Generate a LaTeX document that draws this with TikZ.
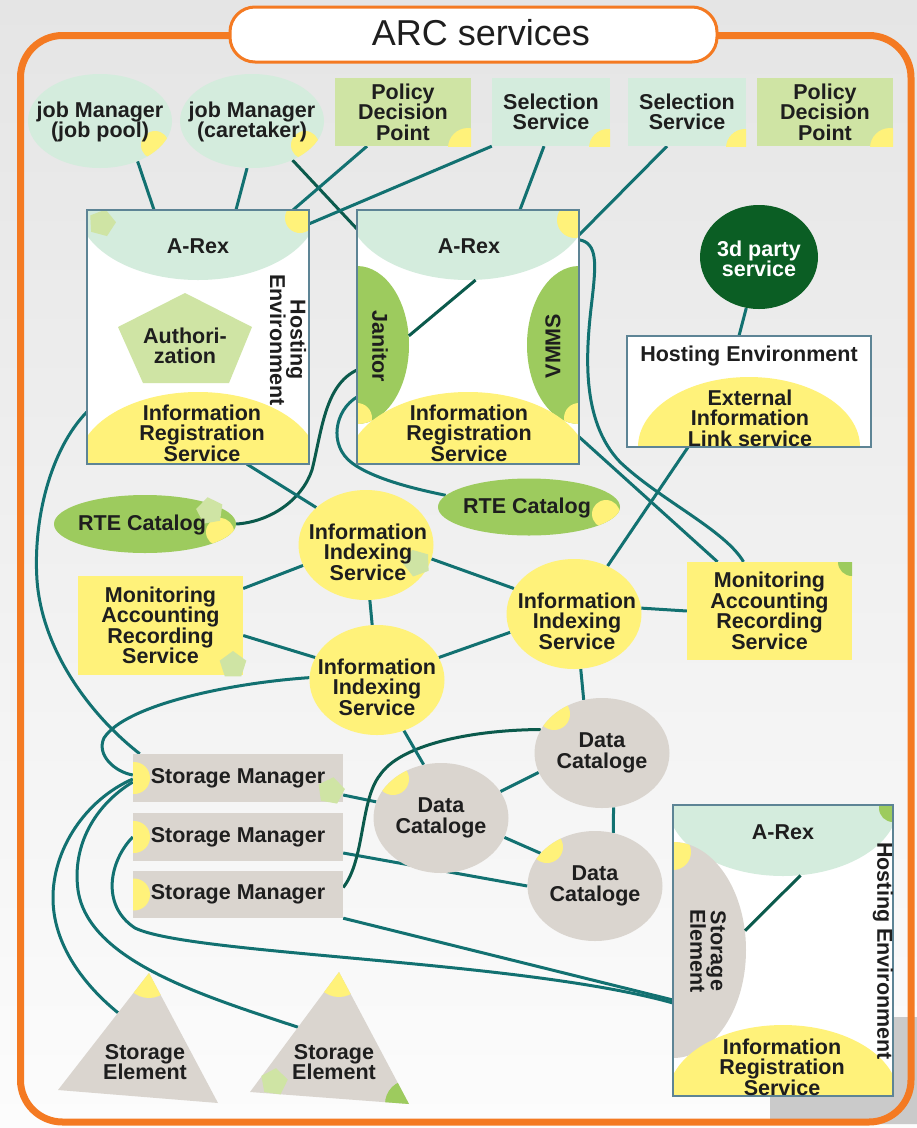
\documentclass[tikz,border=0pt]{standalone}
\usepackage{fontspec}
\setmainfont{Liberation Sans}
\usetikzlibrary{shapes.geometric,calc}
\definecolor{ink}{HTML}{1E1E1E}
\definecolor{mint}{HTML}{D4ECDD}
\definecolor{lgreen}{HTML}{CFE4A4}
\definecolor{leafc}{HTML}{9DCB5E}
\definecolor{yel}{HTML}{FFF27A}
\definecolor{sgray}{HTML}{DAD5CF}
\definecolor{dgreen}{HTML}{0B5E24}
\definecolor{orng}{HTML}{F47A22}
\definecolor{heline}{HTML}{5D8495}
\definecolor{linkc}{HTML}{127171}
\definecolor{dlinkc}{HTML}{0B5A4C}
\definecolor{bgtop}{HTML}{E5E5E5}
\definecolor{bgbot}{HTML}{FCFCFC}
\definecolor{bggray}{HTML}{CACACA}
\pgfdeclarelayer{bg}
\pgfdeclarelayer{edges}
\pgfsetlayers{bg,edges,main}
\begin{document}
\begin{tikzpicture}[x=1pt,y=-1pt,
    lbl/.style={font=\bfseries\fontsize{21.5}{20.5}\selectfont, text=ink, align=center, inner sep=0},
    oval/.style={ellipse, inner sep=0},
    card/.style={rectangle, lbl},
    hebox/.style={rectangle, inner sep=0, fill=white},
    hefrm/.style={draw=heline, line width=1.5pt},
    pent/.style={regular polygon, regular polygon sides=5, minimum size=28, inner sep=0, fill=lgreen},
    port/.style n args={4}{path picture={\fill[#1] ($(path picture bounding box.center)+(#2,#3)$) circle (#4);}},
    link/.style={draw=linkc, line width=3pt},
    dlink/.style={draw=dlinkc, line width=3pt}]
\useasboundingbox (0,0) rectangle (917,1128);
\begin{pgfonlayer}{bg}
  \shade[top color=bgtop, bottom color=bgbot] (0,0) rectangle (917,1128);
  \fill[bggray] (770,1124) -- (770,1090) .. controls (770,1040) and (790,1017) .. (840,1017) -- (917,1017) -- (917,1124) -- cycle;
  \draw[orng, line width=7pt, rounded corners=42] (20.5,35.5) rectangle (911,1122);
  \node[rectangle, rounded corners=25, minimum width=487, minimum height=55, fill=white, draw=orng, line width=3pt] (title) at (473.5,34.5) {};
  \node[font=\fontsize{36}{40}\selectfont, text=ink, inner sep=0] (titlet) at (481,33) {ARC services};
\end{pgfonlayer}

\node[oval, fill=mint, minimum width=144, minimum height=94, port={yel}{55}{24}{14}] (jmpool) at (100,121) {};
\node[lbl] (jmpoolt) at (100,122) {job Manager\\(job pool)};
\node[oval, fill=mint, minimum width=144, minimum height=94, port={yel}{53}{24}{14}] (jmcare) at (252,121) {};
\node[lbl] (jmcaret) at (252,122) {job Manager\\(caretaker)};
\node[card, fill=lgreen, minimum width=136, minimum height=68, port={yel}{65}{36}{20}] (pdpA) at (403,112) {Policy\\Decision\\Point};
\node[card, fill=mint, minimum width=118, minimum height=68, port={yel}{57}{36}{19}] (selA) at (551,112) {Selection\\Service};
\node[card, fill=mint, minimum width=118, minimum height=68, port={yel}{58}{36}{19}] (selB) at (687,112) {Selection\\Service};
\node[card, fill=lgreen, minimum width=136, minimum height=68, port={yel}{65}{36}{20}] (pdpB) at (825,112) {Policy\\Decision\\Point};

\node[hebox, minimum width=222, minimum height=254] (heA) at (198,337) {};
\begin{scope}
  \clip (heA.north west) rectangle (heA.south east);
  \node[oval, fill=mint, minimum width=240, minimum height=144, port={yel}{102}{10}{15}] (arexA) at (198,208) {};
  \node[oval, fill=yel, minimum width=240, minimum height=144] (irsA) at (198,464) {};
  \node[pent, rotate=-15] (pgA) at (102,223) {};
\end{scope}
\draw[hefrm] (heA.north west) rectangle (heA.south east);
\fill[lgreen] (185,293) -- (252,327) -- (229,383) -- (143,383) -- (118,327) -- cycle;
\node[lbl] (arexAt) at (198,246) {A-Rex};
\node[lbl] (authz) at (185,346) {Authori-\\zation};
\node[lbl] (irsAt) at (202,433) {Information\\Registration\\Service};
\node[lbl, rotate=-90] (heAt) at (288,340) {Hosting\\Environment};

\node[hebox, minimum width=222, minimum height=254] (heB) at (468,337) {};
\begin{scope}
  \clip (heB.north west) rectangle (heB.south east);
  \node[oval, fill=mint, minimum width=240, minimum height=144, port={yel}{107}{12}{18}] (arexB) at (468,208) {};
  \node[oval, fill=leafc, minimum width=104, minimum height=158, port={yel}{0}{73}{15}] (jan) at (357,345) {};
  \node[oval, fill=leafc, minimum width=104, minimum height=158, port={yel}{0}{73}{15}] (vmms) at (579,345) {};
  \node[oval, fill=yel, minimum width=240, minimum height=144] (irsB) at (468,464) {};
\end{scope}
\draw[hefrm] (heB.north west) rectangle (heB.south east);
\node[lbl] (arexBt) at (469,246) {A-Rex};
\node[lbl, rotate=-90] (jant) at (380,346) {Janitor};
\node[lbl, rotate=90] (vmmst) at (553,346) {VMMS};
\node[lbl] (irsBt) at (469,433) {Information\\Registration\\Service};
\draw[dlink] (arexB.-84) -- (jan.10);

\node[oval, fill=dgreen, minimum width=118, minimum height=104] (party) at (759,257) {};
\node[lbl, text=white] (partyt) at (759,259) {3d party\\service};

\node[hebox, minimum width=244, minimum height=111] (heC) at (749,391.5) {};
\begin{scope}
  \clip (heC.north west) rectangle (heC.south east);
  \node[oval, fill=yel, minimum width=222, minimum height=140] (extC) at (749,447) {};
\end{scope}
\draw[hefrm] (heC.north west) rectangle (heC.south east);
\node[lbl] (heCt) at (749,356) {Hosting Environment};
\node[lbl] (extCt) at (750,418) {External\\Information\\Link service};

\node[oval, fill=leafc, minimum width=182, minimum height=58, port={yel}{75}{8}{14}] (rteA) at (145,524) {};
\node[pent, rotate=10] (pgB) at (210,511) {};
\node[lbl] (rteAt) at (142,525) {RTE Catalog};
\node[oval, fill=leafc, minimum width=182, minimum height=57, port={yel}{77}{7}{14}] (rteB) at (529,507) {};
\node[lbl] (rteBt) at (527,508) {RTE Catalog};

\node[oval, fill=yel, minimum width=135, minimum height=110] (iisA) at (366,545) {};
\node[pent, rotate=20] (pgC) at (417,563) {};
\node[lbl] (iisAt) at (368,552) {Information\\Indexing\\Service};
\node[oval, fill=yel, minimum width=135, minimum height=110] (iisB) at (574,614) {};
\node[lbl] (iisBt) at (577,621) {Information\\Indexing\\Service};
\node[oval, fill=yel, minimum width=135, minimum height=110] (iisC) at (377,680) {};
\node[lbl] (iisCt) at (377,687) {Information\\Indexing\\Service};

\node[card, fill=yel, minimum width=165, minimum height=99] (maA) at (160.5,625.5) {};
\node[pent] (pgD) at (233,665) {};
\node[lbl] (maAt) at (maA) {Monitoring\\Accounting\\Recording\\Service};
\node[card, fill=yel, minimum width=165, minimum height=98, port={leafc}{82.5}{-49}{14}] (maB) at (769.5,611) {Monitoring\\Accounting\\Recording\\Service};

\node[card, fill=sgray, minimum width=210, minimum height=48, port={yel}{-104}{0}{16}] (smA) at (238,778) {Storage Manager};
\node[pent, rotate=-10] (pgE) at (331,791) {};
\node[card, fill=sgray, minimum width=210, minimum height=48, port={yel}{-104}{0}{16}] (smB) at (238,837) {Storage Manager};
\node[card, fill=sgray, minimum width=210, minimum height=47, port={yel}{-104}{0}{16}] (smC) at (238,894.5) {Storage Manager};

\node[oval, fill=sgray, minimum width=135, minimum height=110, port={yel}{-48}{-39}{16}] (dcA) at (602,753) {};
\node[lbl] (dcAt) at (dcA) {Data\\Cataloge};
\node[oval, fill=sgray, minimum width=135, minimum height=110, port={yel}{-48}{-39}{16}] (dcB) at (441,818) {};
\node[lbl] (dcBt) at (dcB) {Data\\Cataloge};
\node[oval, fill=sgray, minimum width=135, minimum height=110, port={yel}{-48}{-39}{16}] (dcC) at (595,886) {};
\node[lbl] (dcCt) at (dcC) {Data\\Cataloge};

\coordinate (seAtop) at (149,973);
\coordinate (seAleft) at (58,1090);
\coordinate (seAright) at (218,1103);
\fill[sgray] (seAtop) -- (seAleft) -- (seAright) -- cycle;
\begin{scope}
  \clip (seAtop) -- (seAleft) -- (seAright) -- cycle;
  \fill[yel] (seAtop) circle (25);
\end{scope}
\node[lbl] (seAt) at (145,1062) {Storage\\Element};
\coordinate (seBtop) at (339,972);
\coordinate (seBleft) at (250,1092);
\coordinate (seBright) at (409,1104);
\fill[sgray] (seBtop) -- (seBleft) -- (seBright) -- cycle;
\begin{scope}
  \clip (seBtop) -- (seBleft) -- (seBright) -- cycle;
  \fill[yel] (seBtop) circle (25);
  \fill[leafc] (seBright) circle (24);
\end{scope}
\node[pent, rotate=-8] (pgF) at (274,1082) {};
\node[lbl] (seBt) at (334,1062) {Storage\\Element};

\node[hebox, minimum width=220, minimum height=291] (heD) at (783,950.5) {};
\begin{scope}
  \clip (heD.north west) rectangle (heD.south east);
  \node[oval, fill=mint, minimum width=230, minimum height=142, port={leafc}{110}{3}{14}] (arexD) at (783,805) {};
  \node[oval, fill=sgray, minimum width=146, minimum height=216, port={yel}{0}{-98}{18}] (seD) at (673,950) {};
  \node[oval, fill=yel, minimum width=230, minimum height=142] (irsD) at (783,1096) {};
\end{scope}
\draw[hefrm] (heD.north west) rectangle (heD.south east);
\node[lbl] (arexDt) at (783,832) {A-Rex};
\node[lbl, rotate=-90] (seDt) at (708,951) {Storage\\Element};
\node[lbl] (irsDt) at (782,1067) {Information\\Registration\\Service};
\node[lbl, rotate=-90] (heDt) at (883,951) {Hosting Environment};
\draw[dlink] (arexD.-76) -- (seD.15);

\begin{pgfonlayer}{edges}
  \draw[link] (jmpool.-47) -- ([xshift=-44]heA.north);
  \draw[link] (jmcare.264) -- ([xshift=38]heA.north);
  \draw[dlink] (jmcare.-44) -- ([yshift=-19]heB.north west);
  \draw[link] ([xshift=-36]pdpA.south) -- ([xshift=-16]heA.north east);
  \draw[link] (selA.south west) -- ([yshift=-14]heA.north east);
  \draw[link] ([xshift=-7]selA.south) -- ([xshift=52]heB.north);
  \draw[link] ([xshift=-20]selB.south) -- ([yshift=-25]heB.north east);
  \draw[link] (party.-104) -- ([xshift=-10]heC.north);
  \draw[link] ([xshift=-61]heC.south) -- (iisB.55);
  \draw[dlink] ([yshift=-25]jan.center) .. controls (325,385) and (322,430) .. (312,470) .. controls (302,500) and (270,522) .. (rteA.east);
  \draw[link] ([yshift=-52]jan.center) .. controls (335,410) and (328,445) .. (352,463) .. controls (375,480) and (420,490) .. (rteB.172);
  \draw[link] ([xshift=49]heA.south) -- (iisA.143);
  \draw[link] ([yshift=-75]heA.west) .. controls (50,450) and (33,520) .. (37,580) .. controls (42,650) and (90,715) .. ([xshift=7]smA.north west);
  \draw[link] (iisC.178) .. controls (230,683) and (125,705) .. (104,738) .. controls (96,755) and (115,772) .. ([yshift=3]smA.west);
  \draw[link] ([yshift=-1]smA.west) .. controls (85,800) and (52,850) .. (53,900) .. controls (54,950) and (90,990) .. ($(seAtop)!0.34!(seAleft)$);
  \draw[link] ([yshift=-4]smA.west) .. controls (95,805) and (72,845) .. (78,890) .. controls (88,960) and (200,995) .. ($(seBtop)!0.46!(seBleft)$);
  \draw[link] (smB.west) .. controls (110,860) and (100,905) .. (135,928) .. controls (190,955) and (520,960) .. ([yshift=-53]seD.center);
  \draw[link] (smC.south east) -- ([yshift=-50]seD.center);
  \draw[link] ([yshift=-17]smA.east) -- (dcB.166);
  \draw[link] ([yshift=-16]smB.east) -- (dcC.west);
  \draw[dlink] ([yshift=7]smC.east) .. controls (365,860) and (360,800) .. (380,775) .. controls (400,745) and (470,730) .. (dcA.159);
  \draw[link] (iisC.-62) -- (dcB.108);
  \draw[link] (dcB.24) -- (dcA.-163);
  \draw[link] (dcA.-78) -- (dcC.71);
  \draw[link] (dcB.-17) -- (dcC.149);
  \draw[link] (iisB.-83) -- (dcA.109);
  \draw[link] (iisA.-86) -- (iisC.95);
  \draw[link] (iisA.-12) -- (iisB.157);
  \draw[link] (iisC.20) -- (iisB.-164);
  \draw[link] ([yshift=37]maA.east) -- (iisA.-162);
  \draw[link] ([yshift=-10]maA.east) -- (iisC.160);
  \draw[link] (iisB.5) -- (maB.west);
  \draw[link] ([yshift=-100]heB.east) -- ([xshift=-52]maB.north);
  \draw[link] ([yshift=-30]heB.north east) .. controls (598,243) and (596,265) .. (592,300) .. controls (586,350) and (580,420) .. (620,462) .. controls (660,500) and (725,530) .. ([xshift=-26]maB.north);
\end{pgfonlayer}
\end{tikzpicture}
\end{document}
